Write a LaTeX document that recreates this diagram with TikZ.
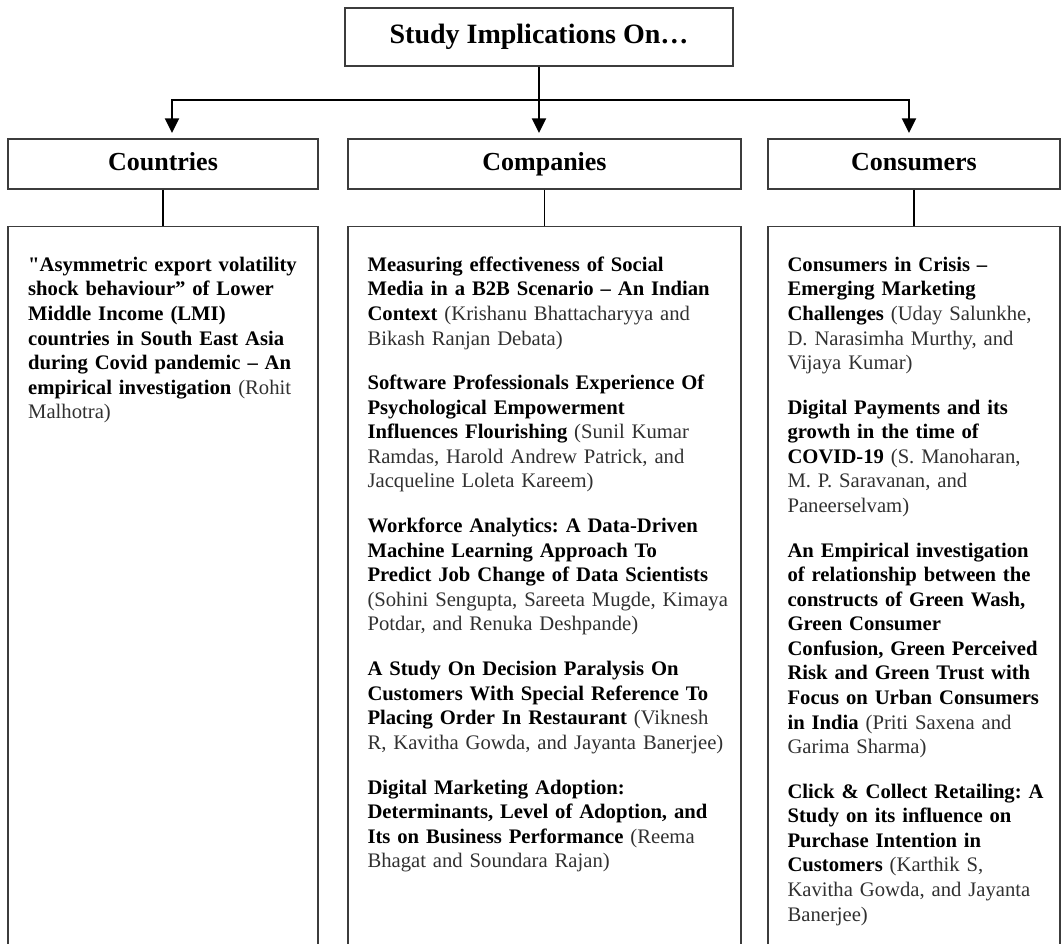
\documentclass[tikz,border=0pt]{standalone}
\usepackage{fontspec}
\setmainfont{Liberation Serif}[Ligatures=TeXOff]
\usetikzlibrary{arrows.meta,positioning}
\definecolor{framegray}{HTML}{3C3C3C}
\definecolor{authgray}{HTML}{303030}
\newcommand{\auth}[1]{{\mdseries\color{authgray}#1}}
\tikzset{
  titlebox/.style={draw=framegray, line width=1.1pt, inner sep=0pt, minimum height=43.5pt,
    text height=14.5pt, text depth=4.5pt, font=\fontsize{21}{25}\selectfont\bfseries},
  headbox/.style={draw=framegray, line width=1.1pt, inner sep=0pt, minimum height=37.5pt,
    text height=13.5pt, text depth=4pt, font=\fontsize{19.5}{23}\selectfont\bfseries},
  paperframe/.style={draw=framegray, line width=1.1pt, inner sep=0pt, minimum height=547.5pt, anchor=north},
  papers/.style={inner sep=0pt, align=left, font=\fontsize{15.5}{18.4}\selectfont\bfseries\frenchspacing,
    execute at begin node={\setlength{\parskip}{15.2pt}\strut}},
  trunk/.style={line width=1.5pt},
  feed/.style={trunk, -{Triangle[width=10.5pt,length=11pt]}, shorten >=4pt},
  stem/.style={line width=1.1pt}
}
\begin{document}
\begin{tikzpicture}[x=0.75pt, y=-0.75pt]
\useasboundingbox (0,0) rectangle (1061,944);
\node[titlebox, minimum width=291pt] (study) at (539,37) {Study Implications On…};
\node[headbox, minimum width=232.5pt] (cnthead) at (163,164) {Countries};
\node[headbox, minimum width=294.75pt] (cmphead) at (544.5,164) {Companies};
\node[headbox, minimum width=219pt] (csmhead) at (914,164) {Consumers};
\node[paperframe, minimum width=232.5pt] (cntbox) at (163,226) {};
\node[paperframe, minimum width=294.75pt] (cmpbox) at (544.5,226) {};
\node[paperframe, minimum width=219pt] (csmbox) at (914,226) {};

\coordinate (fork) at (539,100);
\coordinate (cntfork) at (172,100);
\coordinate (csmfork) at (909,100);
\draw[trunk] (study.south) -- (fork);
\draw[feed] (fork) -| (cntfork |- cnthead.north);
\draw[feed] (fork) -| (csmfork |- csmhead.north);
\draw[feed] (fork) -- (fork |- cmphead.north);
\draw[stem] (cnthead.south) -- (cntbox.north);
\draw[stem] (cmphead.south) -- (cmpbox.north);
\draw[stem] (csmhead.south) -- (csmbox.north);

\node[papers, text width=230pt, below right=21pt and 15.5pt of cntbox.north west] (cnttext) {"Asymmetric export volatility\\
shock behaviour” of Lower\\
Middle Income (LMI)\\
countries in South East Asia\\
during Covid pandemic – An\\
empirical investigation \auth{(Rohit\\
Malhotra)}};

\node[papers, text width=295pt, below right=21pt and 15pt of cmpbox.north west] (cmptext) {Measuring effectiveness of Social\\
Media in a B2B Scenario – An Indian\\
Context \auth{(Krishanu Bhattacharyya and\\
Bikash Ranjan Debata)}\par
Software Professionals Experience Of\\
Psychological Empowerment\\
Influences Flourishing \auth{(Sunil Kumar\\
Ramdas, Harold Andrew Patrick, and\\
Jacqueline Loleta Kareem)}\par
Workforce Analytics: A Data-Driven\\
Machine Learning Approach To\\
Predict Job Change of Data Scientists\\
\auth{(Sohini Sengupta, Sareeta Mugde, Kimaya\\
Potdar, and Renuka Deshpande)}\par
A Study On Decision Paralysis On\\
Customers With Special Reference To\\
Placing Order In Restaurant \auth{(Viknesh\\
R, Kavitha Gowda, and Jayanta Banerjee)}\par
Digital Marketing Adoption:\\
Determinants, Level of Adoption, and\\
Its on Business Performance \auth{(Reema\\
Bhagat and Soundara Rajan)}};

\node[papers, text width=215pt, below right=21pt and 15pt of csmbox.north west] (csmtext) {Consumers in Crisis –\\
Emerging Marketing\\
Challenges \auth{(Uday Salunkhe,\\
D. Narasimha Murthy, and\\
Vijaya Kumar)}\par
Digital Payments and its\\
growth in the time of\\
COVID-19 \auth{(S. Manoharan,\\
M. P. Saravanan, and\\
Paneerselvam)}\par
An Empirical investigation\\
of relationship between the\\
constructs of Green Wash,\\
Green Consumer\\
Confusion, Green Perceived\\
Risk and Green Trust with\\
Focus on Urban Consumers\\
in India \auth{(Priti Saxena and\\
Garima Sharma)}\par
Click \& Collect Retailing: A\\
Study on its influence on\\
Purchase Intention in\\
Customers \auth{(Karthik S,\\
Kavitha Gowda, and Jayanta\\
Banerjee)}};
\end{tikzpicture}
\end{document}
